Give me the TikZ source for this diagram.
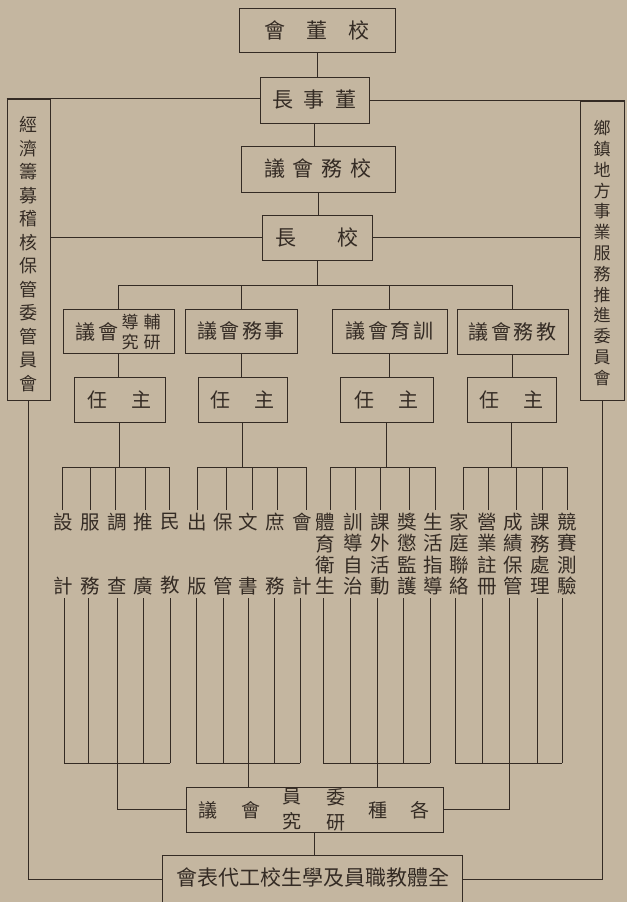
\documentclass[tikz,border=0pt]{standalone}
\usepackage{fontspec}
\newfontfamily\cjk{Noto Sans CJK TC}
\definecolor{paper}{RGB}{196,182,160}
\definecolor{ink}{RGB}{52,43,36}
\begin{document}
\begin{tikzpicture}[x=1pt,y=-1pt,
  box/.style={draw=ink, line width=1pt, rectangle, inner sep=0pt, text=ink},
  bigtxt/.style={font=\cjk\fontsize{21}{21}\selectfont},
  midtxt/.style={font=\cjk\fontsize{20}{20}\selectfont},
  txt/.style={inner sep=0pt, text=ink, align=center},
  coltxt/.style={txt, font=\cjk\fontsize{19.5}{21.3}\selectfont},
  link/.style={draw=ink, line width=1pt}]
\useasboundingbox (0,0) rectangle (627,902);
\fill[paper] (0,0) rectangle (627,902);
\clip (0,0) rectangle (627,902);

% top chain
\node[box,bigtxt,minimum width=156pt,minimum height=44pt] (A) at (317,30) {會\hspace{21pt}董\hspace{21pt}校};
\node[box,bigtxt,minimum width=109pt,minimum height=46pt] (B) at (314.5,100) {長\hspace{11pt}事\hspace{11pt}董};
\node[box,bigtxt,minimum width=154pt,minimum height=46pt] (C) at (318,169) {議\hspace{8pt}會\hspace{8pt}務\hspace{8pt}校};
\node[box,bigtxt,minimum width=110pt,minimum height=45pt] (K) at (317,237.5) {長\hspace{41pt}校};

% side committees
\node[box,minimum width=43pt,minimum height=301pt] (L) at (28.5,249.5) {};
\node[txt,font=\cjk\fontsize{18}{23.5}\selectfont] (Lt) at (28.5,254) {經\\濟\\籌\\募\\稽\\核\\保\\管\\委\\管\\員\\會};
\node[box,minimum width=44pt,minimum height=299pt] (R) at (602,250.5) {};
\node[txt,font=\cjk\fontsize{17}{20.8}\selectfont] (Rt) at (602,253) {鄉\\鎮\\地\\方\\事\\業\\服\\務\\推\\進\\委\\員\\會};

% committees
\node[box,minimum width=111pt,minimum height=44pt] (D1) at (118.5,331) {};
\node[txt,midtxt] (D1a) at (85,332) {議};
\node[txt,midtxt] (D1b) at (108,332) {會};
\node[txt,font=\cjk\fontsize{17}{20}\selectfont] (D1c) at (130,332) {導\\究};
\node[txt,font=\cjk\fontsize{17}{20}\selectfont] (D1d) at (152,332) {輔\\研};
\node[box,midtxt,minimum width=112pt,minimum height=44pt] (D2) at (241,331) {議\hspace{2.5pt}會\hspace{2.5pt}務\hspace{2.5pt}事};
\node[box,midtxt,minimum width=115pt,minimum height=44pt] (D3) at (389.5,331) {議\hspace{2.5pt}會\hspace{2.5pt}育\hspace{2.5pt}訓};
\node[box,midtxt,minimum width=111pt,minimum height=45pt] (D4) at (512.5,331.5) {議\hspace{2.5pt}會\hspace{2.5pt}務\hspace{2.5pt}教};

% directors
\node[box,midtxt,minimum width=91pt,minimum height=45pt] (E1) at (119.5,399.5) {任\hspace{24pt}主};
\node[box,midtxt,minimum width=89pt,minimum height=45pt] (E2) at (242.5,399.5) {任\hspace{24pt}主};
\node[box,midtxt,minimum width=93pt,minimum height=45pt] (E3) at (386.5,399.5) {任\hspace{24pt}主};
\node[box,midtxt,minimum width=89pt,minimum height=45pt] (E4) at (511.5,399.5) {任\hspace{24pt}主};

% bottom boxes
\node[box,minimum width=257pt,minimum height=45pt] (F) at (314.5,809.5) {};
\node[txt,font=\cjk\fontsize{19}{19}\selectfont] (Fa) at (208,810) {議};
\node[txt,font=\cjk\fontsize{19}{19}\selectfont] (Fb) at (251,810) {會};
\node[txt,font=\cjk\fontsize{19}{25}\selectfont] (Fc) at (292,809.5) {員\\究};
\node[txt,font=\cjk\fontsize{19}{25}\selectfont] (Fd) at (336,809.5) {委\\研};
\node[txt,font=\cjk\fontsize{19}{19}\selectfont] (Fe) at (378,810) {種};
\node[txt,font=\cjk\fontsize{19}{19}\selectfont] (Ff) at (420,810) {各};
\node[box,minimum width=300pt,minimum height=48pt] (H) at (312,879) {};
\node[txt,bigtxt] (Ht) at (312.5,878) {會表代工校生學及員職教體全};

% column texts
\node[coltxt] (c1) at (63,554) {設\\[42.6pt]計};
\node[coltxt] (c2) at (90,554) {服\\[42.6pt]務};
\node[coltxt] (c3) at (117,554) {調\\[42.6pt]查};
\node[coltxt] (c4) at (143,554) {推\\[42.6pt]廣};
\node[coltxt] (c5) at (170,554) {民\\[42.6pt]教};
\node[coltxt] (c6) at (197,554) {出\\[42.6pt]版};
\node[coltxt] (c7) at (223,554) {保\\[42.6pt]管};
\node[coltxt] (c8) at (248,554) {文\\[42.6pt]書};
\node[coltxt] (c9) at (275,554) {庶\\[42.6pt]務};
\node[coltxt] (c10) at (302,554) {會\\[42.6pt]計};
\node[coltxt] (c11) at (325,554) {體\\育\\衛\\生};
\node[coltxt] (c12) at (353,554) {訓\\導\\自\\治};
\node[coltxt] (c13) at (380,554) {課\\外\\活\\動};
\node[coltxt] (c14) at (407,554) {獎\\懲\\監\\護};
\node[coltxt] (c15) at (433,554) {生\\活\\指\\導};
\node[coltxt] (c16) at (459,554) {家\\庭\\聯\\絡};
\node[coltxt] (c17) at (487,554) {營\\業\\註\\冊};
\node[coltxt] (c18) at (513,554) {成\\績\\保\\管};
\node[coltxt] (c19) at (540,554) {課\\務\\處\\理};
\node[coltxt] (c20) at (567,554) {競\\賽\\測\\驗};

% column connectors
\foreach \i/\xu/\xl in {1/62/64,2/90/88,3/115/117,4/145/143,5/169/170,
  6/197/196,7/226/223,8/252/248,9/277/274,10/306/300,
  11/330/323,12/355/350,13/380/377,14/409/403,15/435/430,
  16/463/455,17/488/482,18/516/509,19/542/537,20/567/562}{
  \coordinate (t\i) at (\xu,467);
  \coordinate (u\i) at (\xu,510);
  \coordinate (l\i) at (\xl,598);
  \coordinate (b\i) at (\xl,763);
  \draw[link] (t\i) -- (u\i);
  \draw[link] (l\i) -- (b\i);
}
\draw[link] (t1) -- (t5);
\draw[link] (t6) -- (t10);
\draw[link] (t11) -- (t15);
\draw[link] (t16) -- (t20);
\draw[link] (b1) -- (b5);
\draw[link] (b6) -- (b10);
\draw[link] (b11) -- (b15);
\draw[link] (b16) -- (b20);

% main connectors
\coordinate (dbus) at (0,285);
\draw[link] (A.south) -- (A.south |- B.north);
\draw[link] (B.south) -- (B.south |- C.north);
\draw[link] (C.south) -- (C.south |- K.north);
\draw[link] (K.south) -- (K.south |- dbus);
\draw[link] (D1.north |- dbus) -- (D4.north |- dbus);
\foreach \d in {1,2,3,4}{
  \draw[link] (D\d.north |- dbus) -- (D\d.north);
  \draw[link] (D\d.south) -- (D\d.south |- E\d.north);
}
\draw[link] (E1.south) -- (E1.south |- t1);
\draw[link] (E2.south) -- (E2.south |- t6);
\draw[link] (E3.south) -- (E3.south |- t11);
\draw[link] (E4.south) -- (E4.south |- t16);

\draw[link] (L.north west) -- (L.north west -| B.west);
\draw[link] (B.east |- R.north) -- (R.north east);
\draw[link] (L.east |- K.west) -- (K.west);
\draw[link] (K.east) -- (R.west |- K.east);
\draw[link] (L.south) |- (H.west);
\draw[link] (R.south) |- (H.east);

\draw[link] (b3) |- (F.west);
\draw[link] (b18) |- (F.east);
\draw[link] (b8) -- (b8 |- F.north);
\draw[link] (b13) -- (b13 |- F.north);
\draw[link] (F.south) -- (F.south |- H.north);
\end{tikzpicture}
\end{document}
